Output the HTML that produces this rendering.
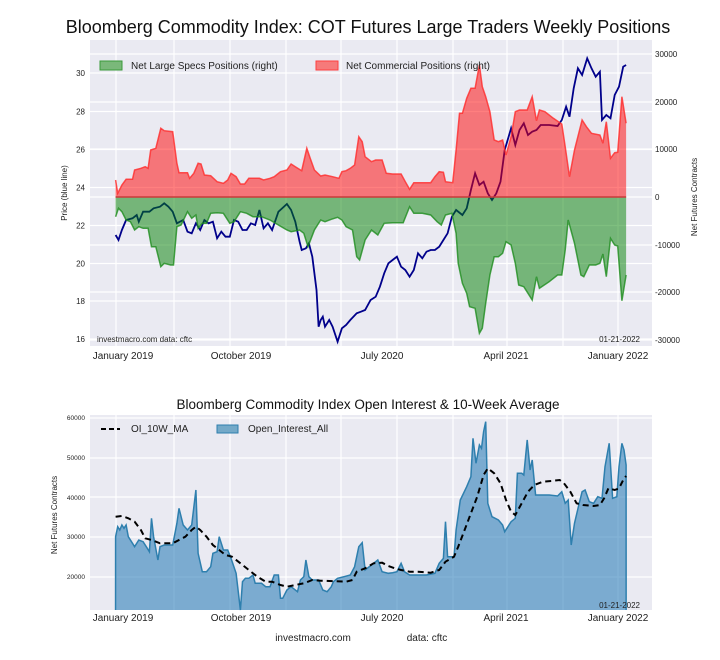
<!DOCTYPE html>
<html><head><meta charset="utf-8"><style>
body{margin:0;background:#fff;}
svg{display:block;font-family:"Liberation Sans",sans-serif;}
</style></head><body>
<svg id="s" width="720" height="660" viewBox="0 0 720 660" xmlns="http://www.w3.org/2000/svg">
<text x="368" y="33" font-size="18" text-anchor="middle" fill="#111">Bloomberg Commodity Index: COT Futures Large Traders Weekly Positions</text>
<rect x="90" y="40" width="562" height="306" fill="#eaeaf2"/>
<g id="topgrid" stroke="#fff" stroke-width="1.2"></g>
<g id="topdata"></g>
<g font-size="8" fill="#222" text-anchor="end" id="lt"></g>
<g font-size="8" fill="#222" text-anchor="start" id="rt"></g>
<text transform="translate(67,193) rotate(-90)" font-size="8" text-anchor="middle" fill="#222">Price (blue line)</text>
<text transform="translate(697,197) rotate(-90)" font-size="8" text-anchor="middle" fill="#222">Net Futures Contracts</text>
<g font-size="10" fill="#222" text-anchor="middle">
<text x="123" y="359">January 2019</text><text x="241" y="359">October 2019</text><text x="382" y="359">July 2020</text><text x="506" y="359">April 2021</text><text x="618" y="359">January 2022</text>
</g>
<text x="97" y="342" font-size="8" fill="#222">investmacro.com   data: cftc</text>
<text x="640" y="342" font-size="8" fill="#222" text-anchor="end">01-21-2022</text>
<rect x="100" y="61" width="22" height="9" fill="#7ab87a" stroke="#3a9a3a"/>
<text x="131" y="69" font-size="10" fill="#222">Net Large Specs Positions (right)</text>
<rect x="316" y="61" width="22" height="9" fill="#f67a7a" stroke="#ff4040"/>
<text x="346" y="69" font-size="10" fill="#222">Net Commercial Positions (right)</text>

<text x="368" y="409" font-size="13.5" text-anchor="middle" fill="#111">Bloomberg Commodity Index Open Interest &amp; 10-Week Average</text>
<rect x="90" y="415" width="562" height="195" fill="#eaeaf2"/>
<g id="botgrid" stroke="#fff" stroke-width="1.2"></g>
<g id="botdata"></g>
<g font-size="6.5" fill="#222" text-anchor="end">
<text x="85" y="420">60000</text><text x="85" y="460">50000</text><text x="85" y="500">40000</text><text x="85" y="539">30000</text><text x="85" y="579">20000</text>
</g>
<text transform="translate(57,515) rotate(-90)" font-size="8" text-anchor="middle" fill="#222">Net Futures Contracts</text>
<g font-size="10" fill="#222" text-anchor="middle">
<text x="123" y="621">January 2019</text><text x="241" y="621">October 2019</text><text x="382" y="621">July 2020</text><text x="506" y="621">April 2021</text><text x="618" y="621">January 2022</text>
</g>
<text x="640" y="608" font-size="8" fill="#222" text-anchor="end">01-21-2022</text>
<line x1="101" y1="429" x2="120" y2="429" stroke="#000" stroke-width="2" stroke-dasharray="5,3"/>
<text x="131" y="432" font-size="10" fill="#222">OI_10W_MA</text>
<rect x="217" y="425" width="21" height="8" fill="#74a9c8" stroke="#2e7fae"/>
<text x="248" y="432" font-size="10" fill="#222">Open_Interest_All</text>
<text x="313" y="641" font-size="10" fill="#222" text-anchor="middle">investmacro.com</text>
<text x="427" y="641" font-size="10" fill="#222" text-anchor="middle">data: cftc</text>
</svg>
<script>
var NS="http://www.w3.org/2000/svg";
function el(p,t,a){var e=document.createElementNS(NS,t);for(var k in a)e.setAttribute(k,a[k]);document.getElementById(p).appendChild(e);return e;}
function pts(arr,ox,oy){var r=[];for(var i=0;i<arr.length;i+=2)r.push([ox+arr[i]/2.364,oy+arr[i+1]/3]);return r;}
function line(p){return p.map(function(q,i){return(i?"L":"M")+q[0].toFixed(1)+","+q[1].toFixed(1)}).join("");}
// top grid
[116,174,230,286,341,397,453,507,563,618].forEach(function(x){el("topgrid","line",{x1:x,x2:x,y1:40,y2:346});});
[73,111.5,149.5,187.5,225.5,263.5,301,339,54,102,149,197,245,292,340].forEach(function(y){el("topgrid","line",{x1:90,x2:652,y1:y,y2:y});});
[[30,73],[28,111.5],[26,149.5],[24,187.5],[22,225.5],[20,263.5],[18,301],[16,339]].forEach(function(a){var t=el("lt","text",{x:85,y:a[1]+3});t.textContent=a[0];});
[["30000",54],["20000",102],["10000",149],["0",197],["-10000",245],["-20000",292],["-30000",340]].forEach(function(a){var t=el("rt","text",{x:655,y:a[1]+3});t.textContent=a[0];});
var red=[155,450,160,490,170,465,180,448,195,448,200,420,215,415,225,410,232,415,238,360,250,355,262,295,270,302,290,305,300,400,305,428,325,428,330,445,340,430,350,400,357,402,365,435,380,437,395,455,410,460,420,450,428,430,440,440,450,462,460,462,470,445,495,445,505,450,520,445,530,440,545,425,560,420,570,402,580,410,595,422,607,355,615,385,625,420,640,438,650,435,668,440,683,445,690,425,700,422,710,415,720,405,730,320,738,335,745,380,760,395,770,390,785,390,795,430,810,432,830,432,840,455,850,478,860,458,880,458,900,458,910,440,920,425,930,427,935,455,952,458,960,360,968,250,975,250,985,205,995,175,1005,175,1010,140,1015,105,1022,170,1030,200,1040,245,1050,330,1060,335,1070,330,1078,375,1090,320,1100,245,1110,240,1128,240,1140,200,1150,272,1157,240,1170,245,1190,265,1210,282,1218,350,1228,440,1240,360,1258,270,1268,290,1280,310,1300,315,1307,340,1315,275,1325,385,1335,368,1342,367,1352,200,1362,280];
var grn=[155,560,162,535,170,545,180,570,190,575,200,600,210,590,220,595,232,595,240,650,250,650,262,710,270,700,285,705,292,705,300,590,310,585,325,545,335,565,345,555,350,595,360,580,370,580,380,550,395,548,410,550,425,580,435,575,450,545,465,550,480,560,500,560,520,570,540,585,560,600,570,605,590,600,600,610,610,650,625,600,640,570,650,575,665,568,680,562,690,570,700,590,715,600,725,680,732,690,745,630,760,600,775,615,790,580,810,578,835,578,850,530,860,550,880,550,900,555,915,575,925,585,935,555,950,550,960,610,965,700,975,760,985,790,992,830,1005,835,1015,910,1022,895,1030,820,1040,735,1050,680,1060,680,1070,670,1078,635,1090,645,1100,700,1108,765,1120,770,1130,790,1140,810,1150,740,1157,775,1180,755,1200,735,1210,735,1218,660,1225,570,1240,640,1255,735,1262,740,1275,705,1290,705,1300,700,1307,672,1315,740,1325,625,1335,645,1342,648,1352,812,1362,735];
var blu=[155,615,162,630,170,600,180,570,195,565,205,555,210,575,220,545,235,545,245,535,260,530,270,520,280,530,290,545,300,580,315,570,325,605,335,610,345,580,355,600,365,570,375,580,385,575,395,625,405,605,415,620,425,620,435,570,445,575,455,600,465,600,475,580,485,585,495,540,505,595,515,580,525,600,540,545,560,522,570,540,580,575,590,635,595,660,605,655,612,640,620,680,630,780,635,890,640,870,645,860,650,890,660,870,668,890,680,935,690,895,700,885,710,870,725,850,735,845,745,840,758,810,770,800,780,770,790,730,800,700,810,690,820,680,830,710,840,720,850,740,860,720,870,670,880,685,890,665,900,660,910,660,920,650,930,630,940,610,950,560,960,540,975,555,985,535,995,480,1005,430,1015,465,1025,455,1035,490,1045,510,1055,490,1065,455,1075,360,1090,295,1100,345,1110,300,1120,280,1130,315,1140,305,1150,300,1160,285,1180,285,1200,288,1210,270,1220,230,1228,260,1238,175,1248,115,1258,135,1270,85,1280,115,1290,140,1300,125,1305,270,1315,255,1325,265,1335,195,1345,170,1355,110,1362,105];
var R=pts(red,50,30),G=pts(grn,50,30),B=pts(blu,50,30);
var z=197;
el("topdata","path",{d:line(B),fill:"none",stroke:"#00008b","stroke-width":1.8});
el("topdata","path",{d:line(R)+"L"+R[R.length-1][0]+","+z+"L"+R[0][0]+","+z+"Z",fill:"rgba(255,0,0,0.5)",stroke:"none"});
el("topdata","path",{d:line(G)+"L"+G[G.length-1][0]+","+z+"L"+G[0][0]+","+z+"Z",fill:"rgba(0,128,0,0.5)",stroke:"none"});
el("topdata","path",{d:line(R),fill:"none",stroke:"#ff2a2a","stroke-width":1.5,"stroke-opacity":0.8});
el("topdata","path",{d:line(G),fill:"none",stroke:"#1e8c1e","stroke-width":1.5,"stroke-opacity":0.8});
el("topdata","line",{x1:R[0][0],x2:R[R.length-1][0],y1:z,y2:z,stroke:"#c83a3a","stroke-width":1.5});
// bottom
[116,174,230,286,341,397,453,507,563,618].forEach(function(x){el("botgrid","line",{x1:x,x2:x,y1:415,y2:610});});
[418,458,497,537,577].forEach(function(y){el("botgrid","line",{x1:90,x2:652,y1:y,y2:y});});
var oi=[155,440,160,410,165,420,170,405,175,415,180,405,185,440,195,460,200,470,210,450,220,455,230,475,235,485,240,385,245,440,255,510,260,470,270,465,290,465,300,400,305,355,315,405,325,420,335,405,345,300,350,490,360,545,370,545,380,530,385,490,395,485,400,440,410,480,420,480,428,505,440,550,450,660,455,575,462,565,470,565,480,555,485,580,500,580,510,590,520,590,530,555,540,555,545,625,550,625,560,600,570,590,585,605,592,570,600,560,605,510,612,560,620,570,635,570,645,600,655,605,665,590,670,575,680,565,695,560,710,555,720,530,730,470,738,458,745,540,760,525,775,510,785,545,800,550,810,548,820,545,830,520,838,545,850,555,870,555,890,555,910,550,920,520,930,505,935,395,940,500,950,500,955,500,960,420,970,330,985,290,995,260,1000,145,1007,220,1015,165,1020,175,1025,125,1030,95,1035,340,1045,380,1060,390,1070,405,1075,425,1090,395,1100,385,1105,250,1115,250,1120,255,1128,150,1135,240,1140,210,1148,315,1160,315,1180,315,1200,318,1210,305,1218,340,1225,330,1232,465,1240,400,1250,345,1258,305,1265,300,1275,335,1285,340,1295,320,1305,325,1312,230,1322,160,1330,325,1340,320,1345,230,1352,160,1357,180,1362,225];
var ma=[155,380,170,378,185,385,200,395,215,420,225,445,240,450,260,460,290,460,305,450,320,440,335,420,345,410,355,420,370,440,385,465,400,480,415,495,430,500,450,520,470,540,490,560,510,575,525,575,545,585,560,590,580,585,600,580,620,570,640,572,660,573,700,575,715,570,725,545,745,535,765,520,785,518,800,528,815,535,830,540,850,545,870,545,900,548,920,540,935,515,955,500,965,470,980,420,995,370,1010,320,1025,255,1035,235,1050,250,1065,280,1078,330,1090,365,1100,375,1115,340,1130,305,1145,285,1165,275,1185,273,1205,270,1215,280,1230,305,1245,340,1260,345,1285,348,1300,345,1310,325,1320,295,1335,300,1345,295,1355,270,1362,258];
var O=pts(oi,50,390),M=pts(ma,50,390);
el("botdata","path",{d:"M"+O[0][0]+",610"+line(O).replace("M","L")+"L"+O[O.length-1][0]+",610Z",fill:"rgba(31,119,180,0.55)",stroke:"none"});
el("botdata","path",{d:"M"+O[0][0]+",610"+line(O).replace("M","L")+"L"+O[O.length-1][0]+",610",fill:"none",stroke:"#2e7fae","stroke-width":1.5});
el("botdata","path",{d:line(M),fill:"none",stroke:"#000","stroke-width":2,"stroke-dasharray":"6,4"});
</script>
</body></html>
